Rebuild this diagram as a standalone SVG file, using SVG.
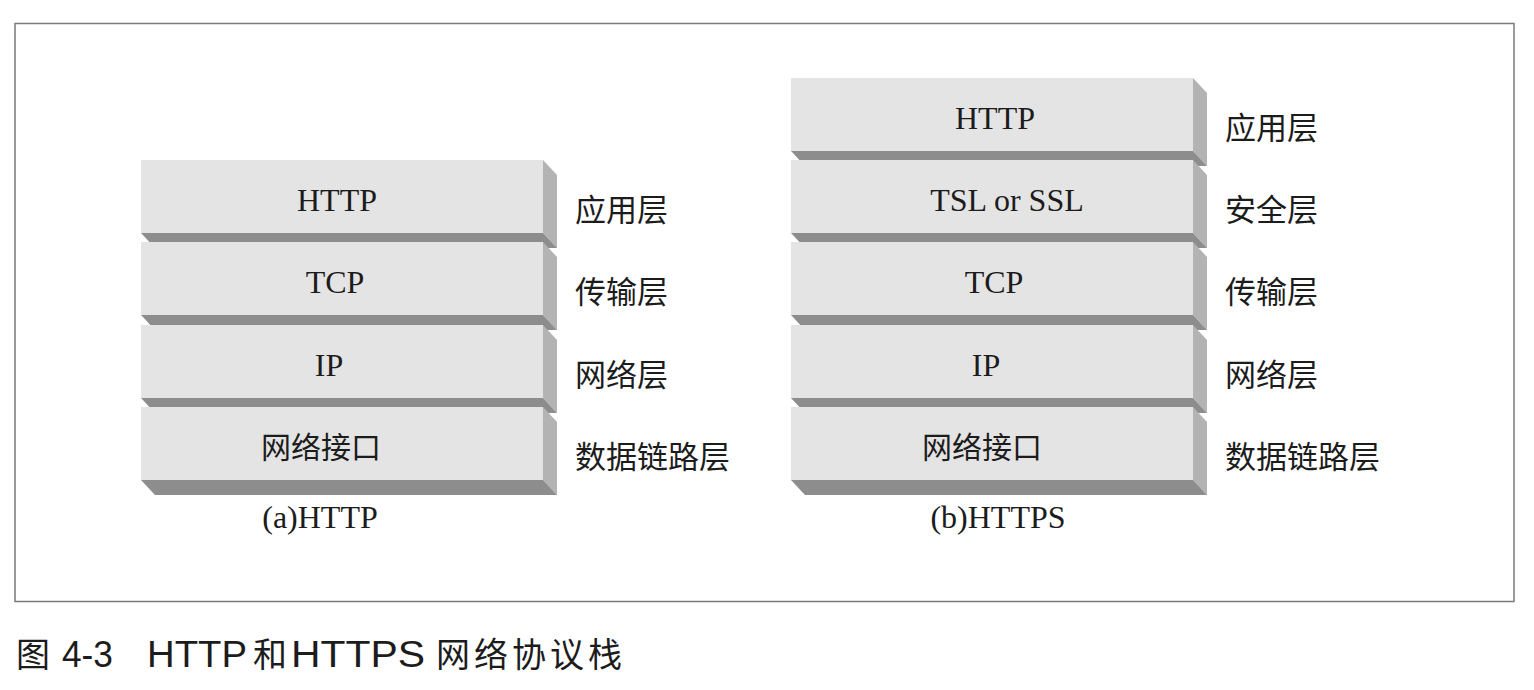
<svg xmlns="http://www.w3.org/2000/svg" xmlns:xlink="http://www.w3.org/1999/xlink" width="1534" height="690" viewBox="0 0 1534 690">
<style>
.side{fill:#b3b3b3}
.bot{fill:#8d8d8d}
.front{fill:#e4e4e4}
.lt{font-family:"Liberation Serif","Times New Roman",serif;font-size:32px;fill:#1c1c1c;text-anchor:middle}
.ct{font-family:"Noto Sans CJK SC",sans-serif;font-size:30px;fill:#1c1c1c;text-anchor:middle}
.lab{font-family:"Noto Sans CJK SC",sans-serif;font-size:31px;fill:#1c1c1c}
.capl{font-family:"Liberation Sans",Arial,sans-serif;font-size:37px;fill:#1c1c1c}
.capc{font-family:"Noto Sans CJK SC",sans-serif;font-size:34px;fill:#1c1c1c}
</style>
<defs>
<g id="box">
<polygon class="side" points="402,0 416,15 416,88 402,73"/>
<polygon class="bot" points="0,73 402,73 416,88 14,88"/>
<rect class="front" x="0" y="0" width="402" height="73"/>
</g>
</defs>
<rect x="0" y="0" width="1534" height="690" fill="#ffffff"/>
<rect id="frame" x="15" y="23.5" width="1499" height="578" fill="none" stroke="#7a7a7a" stroke-width="1.5"/>

<g id="stack-a">
<g id="a-http"><use xlink:href="#box" x="141" y="160"/><text class="lt" x="337" y="211">HTTP</text></g>
<g id="a-tcp"><use xlink:href="#box" x="141" y="242"/><text class="lt" x="335" y="293">TCP</text></g>
<g id="a-ip"><use xlink:href="#box" x="141" y="325"/><text class="lt" x="329" y="376">IP</text></g>
<g id="a-nic"><use xlink:href="#box" x="141" y="407"/><text class="ct" x="321" y="458">网络接口</text></g>
<text id="a-caption" class="lt" x="320" y="528">(a)HTTP</text>
</g>

<g id="stack-b">
<g id="b-http"><use xlink:href="#box" x="791" y="78"/><text class="lt" x="995" y="129">HTTP</text></g>
<g id="b-tls"><use xlink:href="#box" x="791" y="160"/><text class="lt" x="1007" y="211">TSL or SSL</text></g>
<g id="b-tcp"><use xlink:href="#box" x="791" y="242"/><text class="lt" x="994" y="293">TCP</text></g>
<g id="b-ip"><use xlink:href="#box" x="791" y="325"/><text class="lt" x="986" y="376">IP</text></g>
<g id="b-nic"><use xlink:href="#box" x="791" y="407"/><text class="ct" x="982" y="458">网络接口</text></g>
<text id="b-caption" class="lt" x="998" y="528">(b)HTTPS</text>
</g>

<g id="labels-a">
<text class="lab" x="575" y="221">应用层</text>
<text class="lab" x="575" y="303">传输层</text>
<text class="lab" x="575" y="386">网络层</text>
<text class="lab" x="575" y="468">数据链路层</text>
</g>
<g id="labels-b">
<text class="lab" x="1225" y="139">应用层</text>
<text class="lab" x="1225" y="221">安全层</text>
<text class="lab" x="1225" y="303">传输层</text>
<text class="lab" x="1225" y="386">网络层</text>
<text class="lab" x="1225" y="468">数据链路层</text>
</g>

<g id="figure-caption">
<text class="capc" x="16" y="667">图</text>
<text class="capl" x="62" y="667" textLength="51" lengthAdjust="spacingAndGlyphs">4-3</text>
<text class="capl" x="147" y="667" textLength="100" lengthAdjust="spacingAndGlyphs">HTTP</text>
<text class="capc" x="253" y="667">和</text>
<text class="capl" x="291" y="667" textLength="134" lengthAdjust="spacingAndGlyphs">HTTPS</text>
<text class="capc" x="436 474 512 550 588" y="667">网络协议栈</text>
</g>
</svg>
